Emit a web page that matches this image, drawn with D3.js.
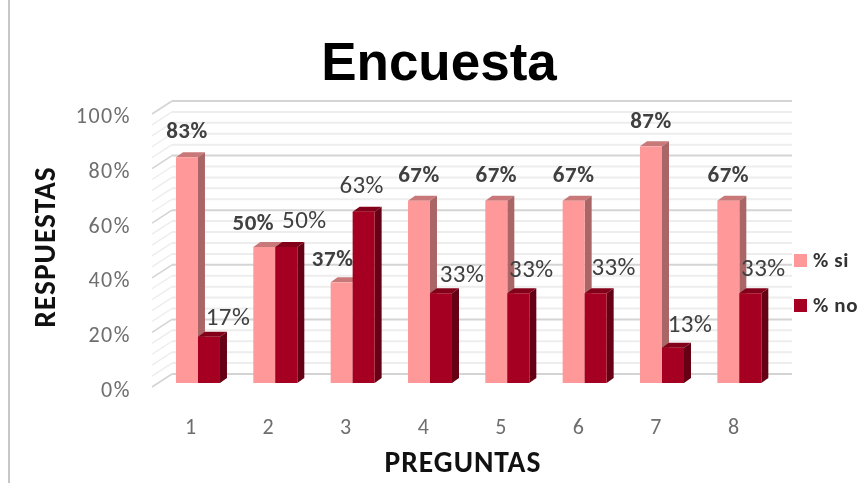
<!DOCTYPE html>
<html><head><meta charset="utf-8">
<script src="https://cdnjs.cloudflare.com/ajax/libs/d3/7.8.5/d3.min.js"></script>
<style>html,body{margin:0;padding:0;background:#fff;overflow:hidden}svg{display:block;filter:blur(0.4px)}</style>
</head><body>
<script>
const categories = ["1","2","3","4","5","6","7","8"];
const seriesNames = ["% si","% no"];
const si = [83,50,37,67,67,67,87,67];
const no = [17,50,63,33,33,33,13,33];
const yTicks = [0,20,40,60,80,100];
const title = "Encuesta", xTitle = "PREGUNTAS", yTitle = "RESPUESTAS";

const W = 858, H = 483;
const svg = d3.select("body").append("svg").attr("width",W).attr("height",H);
const C = {si:"#ff9999",siTop:"#c87878",siSide:"#aa6666",no:"#a50021",noTop:"#820019",noSide:"#660014"};
const depthX = 7, depthY = 5;

const x = d3.scaleBand().domain(categories).range([159.3,778]);
const barW = 22;
const barLeft = c => x(c) + (x.bandwidth()-2*barW)/2;
const y = d3.scaleLinear().domain([0,100]).range([383,111]);
const wallY = d3.scaleLinear().domain([0,100]).range([374,101]);
const floorY = d3.scaleLinear().domain([0,100]).range([387,114]);

const minor = d3.range(0,101,4);
const g = svg.append("g");
const wallL = 172, wallR = 792, sideL = 152;
minor.forEach(v=>{
  const major = v%20===0;
  const col = major ? "#d4d4d4" : "#ededed";
  g.append("line").attr("x1",wallL).attr("x2",wallR).attr("y1",wallY(v)).attr("y2",wallY(v)).attr("stroke",col).attr("stroke-width",2);
  g.append("line").attr("x1",sideL).attr("x2",wallL).attr("y1",floorY(v)).attr("y2",wallY(v)).attr("stroke",col).attr("stroke-width",major?1.6:1.4);
});

function bar(c,left,val,f,t,s){
  const top = y(val), base = y(0), r = left+barW;
  g.append("path").attr("fill",t).attr("d",`M${left},${top}L${left+depthX},${top-depthY}L${r+depthX},${top-depthY}L${r},${top}Z`);
  g.append("path").attr("fill",s).attr("d",`M${r},${top}L${r+depthX},${top-depthY}L${r+depthX},${base-depthY}L${r},${base}Z`);
  g.append("rect").attr("x",left).attr("y",top).attr("width",barW).attr("height",base-top).attr("fill",f);
}
categories.forEach((c,i)=>{
  bar(c,barLeft(c),si[i],C.si,C.siTop,C.siSide);
  bar(c,barLeft(c)+barW,no[i],C.no,C.noTop,C.noSide);
});

const siNudge = [[0,-27],[-11,-25],[-9,-24],[0,-27],[0,-27],[0,-27],[0,-26],[0,-27]];
const noNudge = [[19,-21],[18,-28],[-2,-27],[21,-20],[13,-25],[18,-27],[17,-24],[13,-26]];
const font = "Carlito, Lato, sans-serif";
categories.forEach((c,i)=>{
  svg.append("text").attr("x",barLeft(c)+barW/2+siNudge[i][0]).attr("y",y(si[i])+siNudge[i][1]).attr("dy","0.35em")
    .attr("text-anchor","middle").attr("font-family",font).attr("font-weight",700).attr("font-size",23).attr("letter-spacing",0.5).attr("fill","#404040").text(si[i]+"%");
  svg.append("text").attr("x",barLeft(c)+barW*1.5+noNudge[i][0]).attr("y",y(no[i])+noNudge[i][1]).attr("dy","0.35em")
    .attr("text-anchor","middle").attr("font-family",font).attr("font-size",25).attr("letter-spacing",0.4).attr("fill","#404040").text(no[i]+"%");
});

const tickScale = d3.scaleLinear().domain([0,100]).range([389.5,115.5]);
const yAxis = svg.append("g").attr("transform","translate(131,0)")
  .call(d3.axisLeft(tickScale).tickValues(yTicks).tickFormat(d=>d+"%").tickSize(0).tickPadding(0));
yAxis.select(".domain").remove();
yAxis.selectAll("text").attr("font-family",font).attr("font-size",22).attr("letter-spacing",1.5).attr("fill","#6e6e6e");
const xAxis = svg.append("g").attr("transform","translate(0,418)")
  .call(d3.axisBottom(d3.scalePoint().domain(categories).range([190,733])).tickSize(0).tickPadding(0));
xAxis.select(".domain").remove();
xAxis.selectAll("text").attr("font-family",font).attr("font-size",22).attr("fill","#6e6e6e");

svg.append("text").attr("x",439).attr("y",80).attr("text-anchor","middle").attr("font-family","Liberation Sans, Arial, sans-serif")
  .attr("font-weight",700).attr("font-size",53).attr("fill","#000").text(title);
svg.append("text").attr("x",463).attr("y",472).attr("text-anchor","middle").attr("font-family",font)
  .attr("font-weight",700).attr("font-size",29.5).attr("letter-spacing",1).attr("fill","#111").text(xTitle);
svg.append("text").attr("transform","translate(55,247) rotate(-90)").attr("text-anchor","middle").attr("font-family",font)
  .attr("font-weight",700).attr("font-size",29.5).attr("letter-spacing",1).attr("fill","#111").text(yTitle);

const legY = d3.scalePoint().domain(seriesNames).range([254,299]);
seriesNames.forEach((n,i)=>{
  svg.append("rect").attr("x",794).attr("y",legY(n)).attr("width",13).attr("height",13).attr("fill",i?C.no:C.si);
  svg.append("text").attr("x",813).attr("y",legY(n)+13).attr("font-family",font).attr("font-weight",700).attr("font-size",21).attr("letter-spacing",0.6).attr("fill","#333").text(n);
});

svg.append("line").attr("x1",9).attr("x2",9).attr("y1",0).attr("y2",H).attr("stroke","#c8c8c8").attr("stroke-width",2);
</script>
</body></html>
